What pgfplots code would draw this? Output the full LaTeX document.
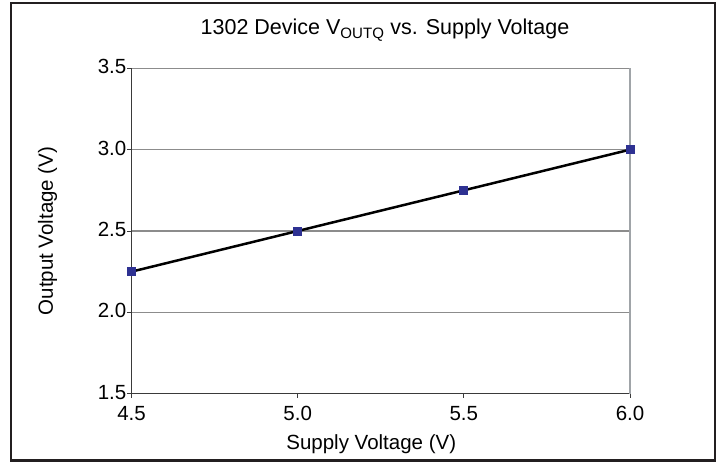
\documentclass[border=0pt]{standalone}
\usepackage{pgfplots}
\pgfplotsset{compat=1.18}
\usepackage{fontspec}
\setmainfont{Liberation Sans}
\definecolor{mkblue}{HTML}{2E3192}
\definecolor{axdark}{HTML}{3A3A3A}
\definecolor{gridgray}{HTML}{8C8C8C}
\definecolor{edgegray}{HTML}{A0A4A8}
\definecolor{framec}{HTML}{231F20}
\begin{document}
\begin{tikzpicture}
\path[use as bounding box] (-131.5bp,-68.3bp) rectangle (590.5bp,393.7bp);
\draw[framec, line width=2.5bp] (-120.5bp,-66.8bp) rectangle (583.5bp,390.7bp);
\begin{axis}[
  at={(0,0)}, anchor=south west,
  scale only axis, width=498.5bp, height=325.4bp,
  xmin=4.5, xmax=6, ymin=1.5, ymax=3.5,
  axis lines=left,
  axis line style={-, axdark, line width=1.4bp},
  xtick={4.5,5,5.5,6}, ytick={1.5,2,2.5,3,3.5},
  ymajorgrids,
  major grid style={gridgray, line width=1.2bp},
  extra x ticks={6}, extra x tick labels={},
  extra x tick style={grid=major, major grid style={edgegray, line width=1.4bp}},
  tick align=outside, major tick length=4bp,
  tick style={axdark, line width=1bp},
  /pgf/number format/.cd, fixed, fixed zerofill, precision=1, assume math mode=true,
  /pgfplots/.cd,
  tick label style={font=\fontsize{20.5bp}{24bp}\selectfont},
  yticklabel style={inner sep=1bp, yshift=1.5bp},
  xticklabel style={inner sep=3bp, yshift=-5bp},
  title={1302 Device V\textsubscript{OUTQ} vs. Supply Voltage},
  title style={at={(axis description cs:0.5085,1.084)}, anchor=base, inner sep=0pt, font=\fontsize{21.5bp}{26bp}\selectfont},
  xlabel={Supply Voltage (V)},
  xlabel style={at={(axis description cs:0.481,-0.170)}, anchor=base, inner sep=0pt, font=\fontsize{20.5bp}{24bp}\selectfont},
  ylabel={Output Voltage (V)},
  ylabel style={at={(axis description cs:-0.1575,0.5)}, anchor=base, rotate=0, inner sep=0pt, font=\fontsize{20.5bp}{24bp}\selectfont},
  clip=false,
]
\addplot[black, line width=2.5bp, mark=square*, mark size=4bp, mark options={mkblue, draw=mkblue, fill=mkblue, line width=0pt}]
  coordinates {(4.5,2.25) (5.0,2.5) (5.5,2.75) (6.0,3.0)};
\end{axis}
\end{tikzpicture}
\end{document}
